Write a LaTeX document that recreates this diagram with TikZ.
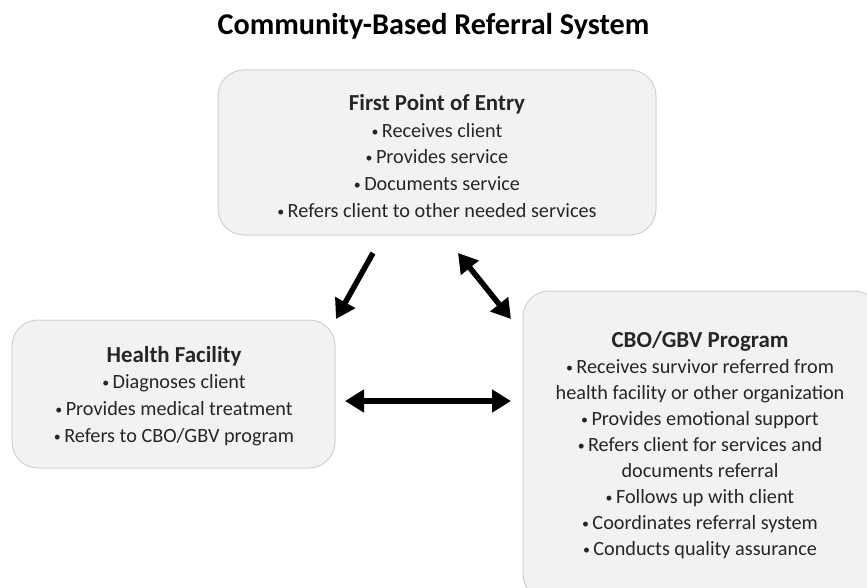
\documentclass[tikz,border=0pt]{standalone}
\usepackage{fontspec}
\setmainfont{Carlito}
\usetikzlibrary{arrows.meta}
\newcommand\blt{{\fontsize{14}{14}\selectfont\raisebox{1bp}{•}}\,}
\newcommand\hd[1]{{\fontsize{23}{26}\selectfont\bfseries #1}}
\begin{document}
\begin{tikzpicture}[x=1bp,y=-1bp,
  box/.style={draw=black!18, fill=black!5, line width=1bp, rounded corners=26bp},
  body/.style={align=center, font=\fontsize{20.3}{26.9}\selectfont, text=black!85, inner sep=0pt},
  arr/.style={line width=5.5bp, -{Triangle[length=19bp,width=22bp]}},
  darr/.style={line width=5.5bp, {Triangle[length=19bp,width=22bp]}-{Triangle[length=19bp,width=22bp]}}]
\useasboundingbox (0,0) rectangle (867,588);
\node[font=\fontsize{30.3}{34}\selectfont\bfseries, inner sep=0pt, anchor=base] (title) at (433.5,35) {Community-Based Referral System};
\draw[box] (218,70) rectangle (656,235);
\node (topbox) at (437,152) {};
\draw[box] (12,320) rectangle (335,468);
\node (leftbox) at (173,394) {};
\draw[box] (523,291) rectangle (880,600);
\node (rightbox) at (700,440) {};
\node[body] (toptext) at (437,156) {\hd{First Point of Entry}\\\blt Receives client\\\blt Provides service\\\blt Documents service\\\blt Refers client to other needed services};
\node[body] (lefttext) at (174,396) {\hd{Health Facility}\\\blt Diagnoses client\\\blt Provides medical treatment\\\blt Refers to CBO/GBV program};
\node[body, font=\fontsize{20.3}{26.2}\selectfont] (righttext) at (700,445) {\hd{CBO/GBV Program}\\\blt Receives survivor referred from\\health facility or other organization\\\blt Provides emotional support\\\blt Refers client for services and\\documents referral\\\blt Follows up with client\\\blt Coordinates referral system\\\blt Conducts quality assurance};
\coordinate (a1s) at (373,253);
\coordinate (a1e) at (336,319);
\coordinate (a2s) at (458,253);
\coordinate (a2e) at (511,319);
\coordinate (a3s) at (345,401);
\coordinate (a3e) at (511,401);
\draw[arr] (a1s) -- (a1e);
\draw[darr] (a2s) -- (a2e);
\draw[darr] (a3s) -- (a3e);
\end{tikzpicture}
\end{document}
